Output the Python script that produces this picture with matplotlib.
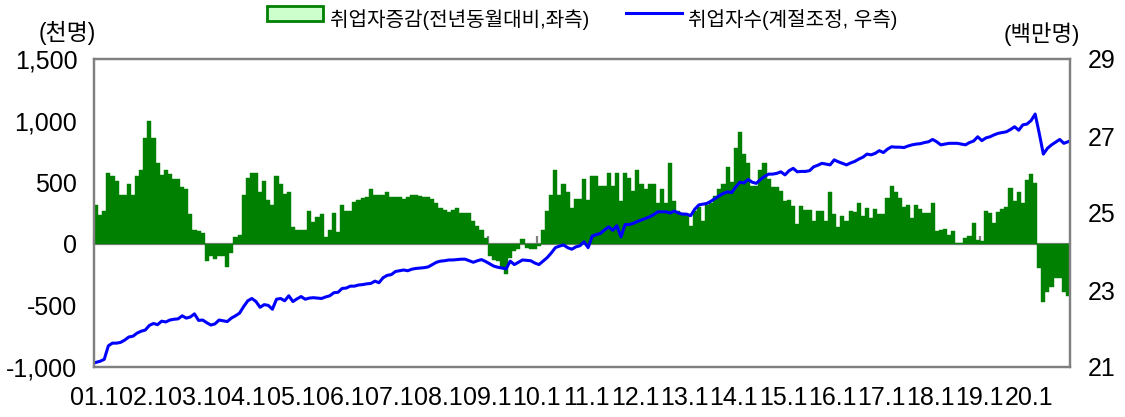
import numpy as np
import matplotlib
matplotlib.use("Agg")
import matplotlib.pyplot as plt
from matplotlib.patches import Rectangle
from matplotlib.lines import Line2D

plt.rcParams['font.family'] = ['Liberation Sans', 'Noto Sans CJK KR', 'DejaVu Sans']
plt.rcParams['axes.unicode_minus'] = False

# 취업자 증감 (전년동월대비, 천명), 2001.1 ~ 2020.10
emp_change = [
    311, 230, 270, 571, 549, 511, 398, 398, 484, 398, 549, 598,      # 2001
    858, 993, 858, 657, 555, 603, 568, 528, 528, 460, 441, 244,      # 2002
    108, 100, 89, -141, -95, -122, -95, -95, -190, -73, 54, 70,      # 2003
    395, 536, 571, 571, 419, 506, 354, 311, 549, 484, 408, 419,      # 2004
    135, 110, 110, 110, 265, 180, 215, 245, 57, 112, 246, 92,        # 2005
    311, 270, 270, 338, 354, 373, 379, 441, 400, 395, 395, 419,      # 2006
    381, 381, 381, 360, 381, 395, 395, 387, 381, 381, 360, 333,      # 2007
    292, 273, 257, 273, 290, 246, 246, 246, 184, 143, 116, 49,       # 2008
    -100, -133, -141, -195, -249, -114, -60, -40, 43, -32, -40, -46, # 2009
    -15, 115, 265, 395, 598, 400, 482, 419, 292, 360, 360, 530,      # 2010
    354, 549, 549, 468, 468, 571, 468, 571, 346, 571, 536, 427,      # 2011
    598, 482, 446, 482, 482, 333, 446, 333, 657, 346, 265, 252,      # 2012
    238, 143, 265, 300, 184, 311, 330, 392, 441, 482, 622, 500,      # 2013
    780, 906, 730, 657, 468, 468, 598, 657, 522, 460, 460, 430,      # 2014
    346, 354, 306, 157, 306, 271, 271, 184, 265, 265, 184, 422,      # 2015
    238, 135, 225, 184, 265, 260, 333, 225, 292, 206, 284, 243,      # 2016
    243, 371, 466, 424, 375, 301, 313, 212, 314, 279, 253, 253,      # 2017
    334, 104, 112, 123, 72, 106, 5, 3, 45, 64, 165, 34,              # 2018
    19, 263, 250, 171, 259, 281, 299, 452, 348, 419, 331, 516,       # 2019
    568, 492, -195, -476, -392, -352, -277, -274, -392, -421,        # 2020
]

# 취업자수 (계절조정, 백만명)
employed_sa = [
    21.12, 21.15, 21.20, 21.55, 21.62, 21.62, 21.64, 21.70, 21.78, 21.80, 21.88, 21.93,
    21.96, 22.08, 22.13, 22.10, 22.19, 22.17, 22.22, 22.24, 22.25, 22.33, 22.27, 22.30,
    22.38, 22.21, 22.22, 22.15, 22.09, 22.12, 22.22, 22.20, 22.18, 22.27, 22.33, 22.40,
    22.57, 22.72, 22.78, 22.70, 22.55, 22.62, 22.60, 22.50, 22.76, 22.78, 22.72, 22.85,
    22.70, 22.77, 22.83, 22.76, 22.79, 22.80, 22.79, 22.78, 22.82, 22.85, 22.93, 22.94,
    23.04, 23.05, 23.10, 23.10, 23.13, 23.14, 23.16, 23.17, 23.23, 23.19, 23.32, 23.38,
    23.40, 23.48, 23.50, 23.52, 23.50, 23.54, 23.56, 23.57, 23.58, 23.60, 23.66, 23.72,
    23.75, 23.76, 23.78, 23.78, 23.79, 23.80, 23.80, 23.76, 23.72, 23.76, 23.79, 23.74,
    23.68, 23.62, 23.59, 23.57, 23.55, 23.75, 23.66, 23.72, 23.78, 23.77, 23.76, 23.70,
    23.66, 23.75, 23.84, 23.96, 24.10, 24.14, 24.17, 24.10, 24.06, 24.12, 24.15, 24.25,
    24.10, 24.40, 24.44, 24.47, 24.56, 24.64, 24.55, 24.67, 24.38, 24.70, 24.70, 24.73,
    24.78, 24.82, 24.86, 24.90, 24.96, 25.03, 25.03, 25.03, 25.00, 25.05, 25.00, 24.97,
    24.97, 24.93, 25.10, 25.21, 25.23, 25.25, 25.31, 25.38, 25.45, 25.51, 25.55, 25.53,
    25.68, 25.80, 25.78, 25.87, 25.80, 25.77, 25.87, 25.95, 26.01, 26.01, 26.03, 26.07,
    25.99, 26.10, 26.16, 26.07, 26.08, 26.08, 26.10, 26.20, 26.24, 26.29, 26.27, 26.25,
    26.38, 26.33, 26.29, 26.25, 26.30, 26.34, 26.40, 26.45, 26.53, 26.51, 26.55, 26.62,
    26.57, 26.66, 26.72, 26.71, 26.71, 26.70, 26.74, 26.77, 26.79, 26.80, 26.83, 26.85,
    26.91, 26.85, 26.77, 26.79, 26.81, 26.81, 26.81, 26.79, 26.77, 26.83, 26.87, 26.98,
    26.88, 26.95, 26.98, 27.03, 27.07, 27.09, 27.11, 27.17, 27.24, 27.15, 27.29, 27.31,
    27.40, 27.57, 27.07, 26.53, 26.68, 26.77, 26.84, 26.91, 26.81, 26.85,
]

year_labels = ['01.1', '02.1', '03.1', '04.1', '05.1', '06.1', '07.1', '08.1', '09.1', '10.1',
               '11.1', '12.1', '13.1', '14.1', '15.1', '16.1', '17.1', '18.1', '19.1', '20.1']

left_ticks = [-1000, -500, 0, 500, 1000, 1500]
left_ticklabels = ['-1,000', '-500', '0', '500', '1,000', '1,500']
right_ticks = [21, 23, 25, 27, 29]

GREEN = '#008000'
BLUE = '#0000ff'
GRAY = '#808080'

months = np.arange(len(emp_change))
year_pos = np.arange(len(year_labels)) * 12

fig = plt.figure(figsize=(11.25, 4.17), dpi=100)
ax = fig.add_axes([94 / 1125, 1 - 367 / 417, (1070 - 94) / 1125, (367 - 59) / 417])

# bars: year-on-year change
ax.bar(months, emp_change, width=1.0, align='edge', color=GREEN, edgecolor=GREEN, linewidth=0.3)
ax.set_xlim(0, len(emp_change))
ax.set_ylim(-1000, 1500)
ax.set_yticks(left_ticks, left_ticklabels)
ax.set_xticks(year_pos, year_labels)
ax.tick_params(axis='both', length=0, labelsize=18)
ax.tick_params(axis='y', pad=12)
ax.tick_params(axis='x', pad=14)
for s in ax.spines.values():
    s.set_color(GRAY)
    s.set_linewidth(1.6)

# zero line with year ticks
zero_ax = ax.secondary_xaxis(1000 / 2500)
zero_ax.set_xticks(year_pos, [''] * len(year_pos))
zero_ax.tick_params(direction='in', length=6, width=1.6, color=GRAY)
zero_ax.spines['bottom'].set_color(GRAY)
zero_ax.spines['bottom'].set_linewidth(1.6)

# line: seasonally adjusted employment (right axis)
ax2 = ax.twinx()
ax2.plot(months + 0.5, employed_sa, color=BLUE, lw=2.2)
ax2.set_ylim(21, 29)
ax2.set_yticks(right_ticks)
ax2.tick_params(axis='y', length=0, labelsize=18, pad=13)
for s in ax2.spines.values():
    s.set_color(GRAY)
    s.set_linewidth(1.6)

# units
fig.text(67 / 1125, 1 - 33 / 417, '(천명)', ha='center', va='center', fontsize=16.5)
fig.text(1042 / 1125, 1 - 34 / 417, '(백만명)', ha='center', va='center', fontsize=16)

# legend
fig.add_artist(Rectangle((267 / 1125, 1 - 21 / 417), 56 / 1125, 15 / 417,
                         transform=fig.transFigure, facecolor='#ccffcc',
                         edgecolor=GREEN, linewidth=2))
fig.text(330 / 1125, 1 - 20 / 417, '취업자증감(전년동월대비,좌측)', ha='left', va='center', fontsize=14.5)
fig.add_artist(Line2D([626 / 1125, 682 / 1125], [1 - 12.5 / 417, 1 - 12.5 / 417],
                      transform=fig.transFigure, color=BLUE, lw=2.2))
fig.text(688 / 1125, 1 - 20 / 417, '취업자수(계절조정, 우측)', ha='left', va='center', fontsize=14.5)

fig.savefig('out.png', dpi=100)
